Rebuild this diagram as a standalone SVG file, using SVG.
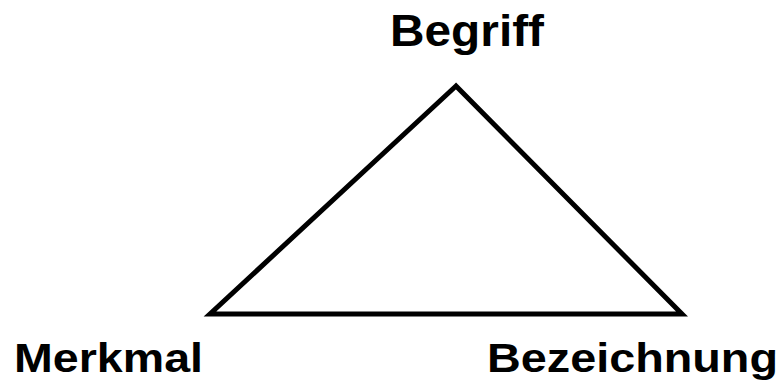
<svg xmlns="http://www.w3.org/2000/svg" width="781" height="386" viewBox="0 0 781 386">
<style>
.lbl{font-family:"Liberation Sans",Arial,sans-serif;font-weight:bold;fill:#000}
.edge{fill:none;stroke:#000;stroke-width:5;stroke-linejoin:miter}
</style>
<rect width="781" height="386" fill="#fff"/>
<g id="connectors">
<polygon class="edge" points="456,86 210,314 682,314"/>
</g>
<g id="node-begriff"><text class="lbl" x="390" y="46" font-size="44" textLength="154" lengthAdjust="spacingAndGlyphs">Begriff</text></g>
<g id="node-merkmal"><text class="lbl" x="14" y="372" font-size="41" textLength="189" lengthAdjust="spacingAndGlyphs">Merkmal</text></g>
<g id="node-bezeichnung"><text class="lbl" x="487" y="372" font-size="41" textLength="291" lengthAdjust="spacingAndGlyphs">Bezeichnung</text></g>
</svg>
